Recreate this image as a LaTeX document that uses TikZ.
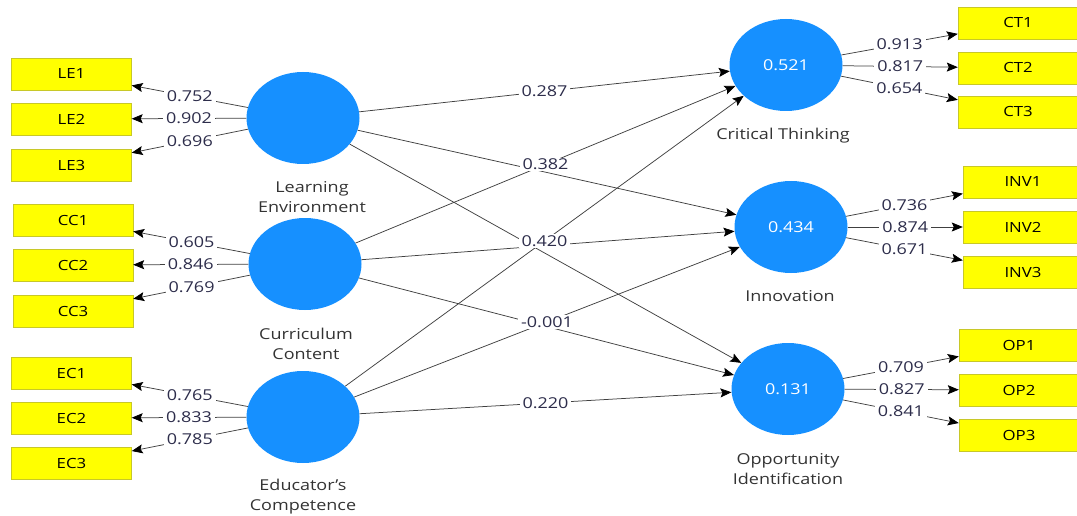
\documentclass[tikz,border=0pt]{standalone}
\usepackage{fontspec}
\setmainfont{Open Sans}[FakeStretch=1.2]
\usetikzlibrary{arrows.meta,shapes.geometric}

\definecolor{lvblue}{RGB}{22,144,255}
\definecolor{mvyellow}{RGB}{255,255,0}
\definecolor{mvedge}{RGB}{200,200,40}
\definecolor{valtext}{RGB}{45,45,75}

\tikzset{
  latent/.style={ellipse, fill=lvblue, minimum width=113pt, minimum height=92pt,
    inner sep=0pt, text=white, font=\fontsize{15}{15}\selectfont},
  indicator/.style={rectangle, draw=mvedge, fill=mvyellow, minimum width=120pt,
    minimum height=32pt, inner sep=0pt, font=\fontsize{14}{14}\selectfont},
  caption/.style={align=center, text=black!80, font=\fontsize{15}{20}\selectfont},
  link/.style={draw=black!75, line width=0.75pt, ->},
  weight/.style={fill=white, inner xsep=3pt, inner ysep=1pt, text=valtext,
    font=\fontsize{15}{15}\selectfont},
}

\begin{document}
\begin{tikzpicture}[x=1pt,y=-1pt, >={Stealth[length=11pt,width=9pt,inset=2pt,black]}]
    \useasboundingbox (0,0) rectangle (1077,516);

    %% Exogenous constructs
    \node[latent] (le) at (303,118) {};
    \node[latent] (cc) at (305,264) {};
    \node[latent] (ec) at (303,417) {};

    %% Endogenous constructs (R squared inside)
    \node[latent] (ct) at (786,65) {0.521};
    \node[latent] (inv) at (791,227) {0.434};
    \node[latent] (op) at (788,389) {0.131};

    %% Construct names
    \node[caption] (lecap) at (312,197) {Learning\\Environment};
    \node[caption] (cccap) at (306,344) {Curriculum\\Content};
    \node[caption] (eccap) at (303,497) {Educator's\\Competence};
    \node[caption] (ctcap) at (783,136) {Critical Thinking};
    \node[caption] (invcap) at (790,296) {Innovation};
    \node[caption] (opcap) at (788,469) {Opportunity\\Identification};

    %% Indicators
    \foreach \i/\y in {1/74,2/119,3/165} \node[indicator] (le\i) at (71.5,\y) {LE\i};
    \foreach \i/\y in {1/220,2/265,3/311} \node[indicator] (cc\i) at (73,\y) {CC\i};
    \foreach \i/\y in {1/373,2/418,3/463} \node[indicator] (ec\i) at (71.5,\y) {EC\i};
    \foreach \i/\y in {1/23,2/68,3/112} \node[indicator] (ct\i) at (1018,\y) {CT\i};
    \foreach \i/\y in {1/182,2/227,3/272} \node[indicator] (inv\i) at (1023,\y) {INV\i};
    \foreach \i/\y in {1/345,2/390,3/435} \node[indicator] (op\i) at (1019,\y) {OP\i};

    %% Outer loadings
    \foreach \c/\i/\v in {le/1/0.752, le/2/0.902, le/3/0.696,
                          cc/1/0.605, cc/2/0.846, cc/3/0.769,
                          ec/1/0.765, ec/2/0.833, ec/3/0.785,
                          ct/1/0.913, ct/2/0.817, ct/3/0.654,
                          inv/1/0.736, inv/2/0.874, inv/3/0.671,
                          op/1/0.709, op/2/0.827, op/3/0.841}
        \draw[link] (\c) -- (\c\i) node[weight, midway] {\v};

    %% Inner model
    \foreach \a/\b in {le/ct, le/inv, le/op, cc/ct, cc/inv, cc/op, ec/ct, ec/inv, ec/op}
        \draw[link] (\a) -- (\b);

    %% Path coefficients (the ones left readable)
    \foreach \a/\b/\v in {le/ct/0.287, cc/ct/0.382, ec/ct/0.420, ec/inv/-0.001, ec/op/0.220}
        \path (\a) -- (\b) node[weight, midway] {\v};

\end{tikzpicture}
\end{document}
